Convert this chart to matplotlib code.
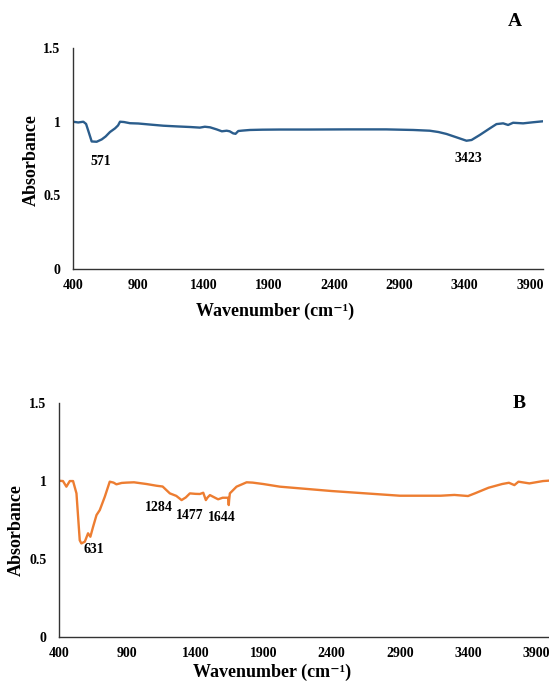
import matplotlib
matplotlib.use("Agg")
import matplotlib.pyplot as plt

# panel A spectrum
wn_a = [400, 440, 479, 500, 520, 543, 581, 620, 650, 683, 722, 745, 760, 790, 836,
        900, 1000, 1091, 1200, 1300, 1372, 1410, 1450, 1500, 1540, 1577, 1600, 1627, 1645, 1666,
        1700, 1755, 1850, 1985, 2200, 2500, 2800, 3006, 3133, 3200, 3261, 3338, 3414, 3453, 3516,
        3593, 3644, 3695, 3733, 3771, 3848, 3920, 4000]
abs_a = [1.0, 0.995, 1.0, 0.985, 0.93, 0.866, 0.864, 0.88, 0.9, 0.93, 0.955, 0.975, 1.0, 0.998, 0.99,
         0.988, 0.98, 0.973, 0.968, 0.964, 0.96, 0.966, 0.962, 0.948, 0.935, 0.939, 0.935, 0.921, 0.918, 0.937,
         0.94, 0.944, 0.946, 0.947, 0.947, 0.948, 0.948, 0.944, 0.939, 0.93, 0.917, 0.894, 0.871, 0.876, 0.91,
         0.955, 0.984, 0.989, 0.978, 0.993, 0.989, 0.996, 1.003]

# panel B spectrum
wn_b = [400, 429, 454, 479, 503, 528, 552, 564, 589, 613, 630, 650, 675, 699, 736,
        772, 800, 821, 860, 895, 950, 1042, 1115, 1160, 1213, 1260, 1299, 1330, 1360, 1400,
        1433, 1458, 1477, 1490, 1507, 1540, 1567, 1600, 1640, 1645, 1648, 1653, 1702, 1776, 1820,
        1898, 2020, 2400, 2900, 3200, 3300, 3400, 3450, 3550, 3650, 3700, 3740, 3770, 3850, 3950, 4000]
abs_b = [1.002, 1.0, 0.964, 1.0, 1.0, 0.921, 0.62, 0.60, 0.611, 0.665, 0.643, 0.707, 0.782, 0.814, 0.9,
         0.996, 0.99, 0.979, 0.988, 0.99, 0.992, 0.981, 0.97, 0.965, 0.921, 0.905, 0.878, 0.895, 0.921, 0.918,
         0.917, 0.925, 0.878, 0.895, 0.91, 0.895, 0.883, 0.893, 0.893, 0.846, 0.88, 0.921, 0.964, 0.992, 0.99,
         0.981, 0.964, 0.936, 0.906, 0.906, 0.911, 0.904, 0.921, 0.957, 0.981, 0.989, 0.974, 0.996, 0.985, 1.0, 1.003]

peaks_a = ["571", "3423"]
peak_pos_a = [(612, 0.733), (3432, 0.747)]
peaks_b = ["631", "1284", "1477", "1644"]
peak_pos_b = [(655, 0.564), (1132, 0.833), (1360, 0.776), (1595, 0.769)]

xticks = [400, 900, 1400, 1900, 2400, 2900, 3400, 3900]
yticks = [0, 0.5, 1, 1.5]
ytick_labels = ["0", "0.5", "1", "1.5"]

plt.rcParams["font.family"] = ["Liberation Serif", "DejaVu Serif"]
plt.rcParams["font.weight"] = "bold"

fig = plt.figure(figsize=(5.49, 6.84), dpi=100)
ax_a = fig.add_axes([0.133, 0.6067, 0.856, 0.323])
ax_b = fig.add_axes([0.1075, 0.0687, 0.894, 0.342])


def style_axis(ax):
    ax.set_xlim(400, 4000)
    ax.set_ylim(0, 1.5)
    ax.set_xticks(xticks)
    ax.set_yticks(yticks)
    ax.set_yticklabels(ytick_labels)
    ax.tick_params(length=0, labelsize=10)
    ax.tick_params(axis="y", pad=9)
    ax.tick_params(axis="x", pad=7)
    for lab in ax.get_xticklabels() + ax.get_yticklabels():
        lab.set_fontweight("bold")
    ax.spines["top"].set_visible(False)
    ax.spines["right"].set_visible(False)
    for side in ["left", "bottom"]:
        ax.spines[side].set_color("#333333")
        ax.spines[side].set_linewidth(1)


ax_a.plot(wn_a, abs_a, color="#2B5D8C", linewidth=1.7)
style_axis(ax_a)
for txt, (x, y) in zip(peaks_a, peak_pos_a):
    ax_a.text(x, y, txt, ha="center", va="center", fontsize=10, fontweight="bold")

ax_b.plot(wn_b, abs_b, color="#ED7D31", linewidth=1.7)
style_axis(ax_b)
for txt, (x, y) in zip(peaks_b, peak_pos_b):
    ax_b.text(x, y, txt, ha="center", va="center", fontsize=10, fontweight="bold")

# axis titles placed like the original figure
xlabel = "Wavenumber (cm\u207b\u00b9)"
fig.text(275 / 549, 1 - 311 / 684, xlabel, ha="center", va="center",
         fontsize=13, fontweight="bold")
fig.text(272 / 549, 1 - 672 / 684, xlabel, ha="center", va="center",
         fontsize=13, fontweight="bold")
fig.text(31 / 549, 1 - 160 / 684, "Absorbance", rotation=90, ha="center", va="center",
         fontsize=13, fontweight="bold")
fig.text(16 / 549, 1 - 530 / 684, "Absorbance", rotation=90, ha="center", va="center",
         fontsize=13, fontweight="bold")

fig.text(515 / 549, 1 - 22 / 684, "A", ha="center", va="center", fontsize=14, fontweight="bold")
fig.text(519 / 549, 1 - 403 / 684, "B", ha="center", va="center", fontsize=14, fontweight="bold")

fig.savefig("out.png", dpi=100)
